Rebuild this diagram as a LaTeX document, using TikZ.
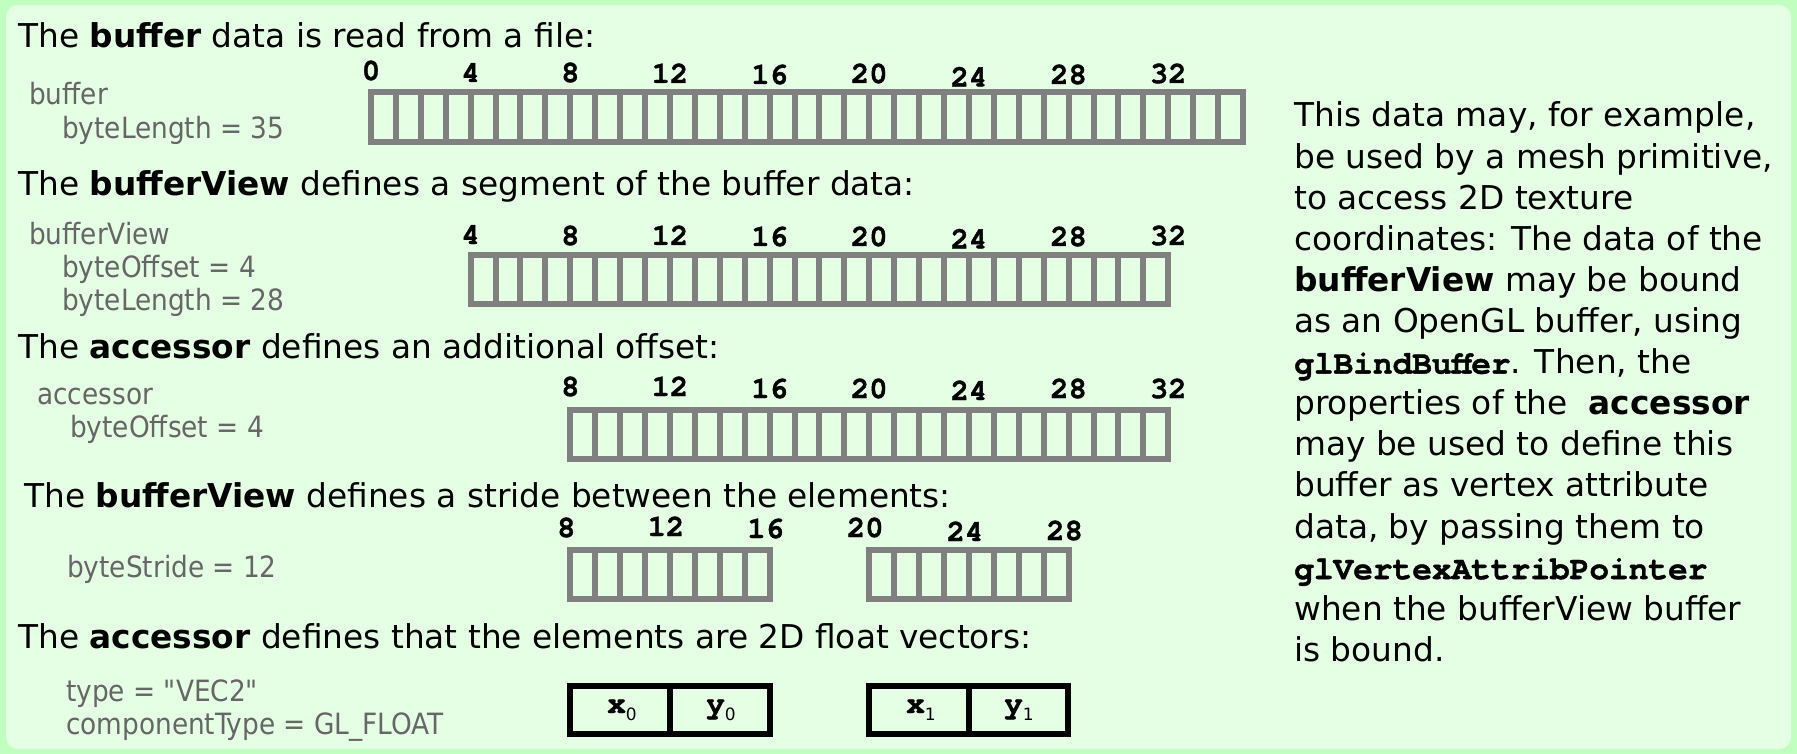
\documentclass[tikz,border=0pt]{standalone}
\usepackage{fontspec}
\setmainfont{DejaVu Sans}
\setmonofont{texgyrecursor}[Extension=.otf, UprightFont=*-regular, BoldFont=*-bold, BoldFeatures={FakeBold=1.2}]
\newfontfamily\condfont{DejaVu Sans Condensed}
\definecolor{outerbg}{RGB}{192,255,192}
\definecolor{innerbg}{RGB}{229,255,229}
\definecolor{labelgray}{RGB}{102,102,102}
\definecolor{cellgray}{RGB}{128,128,128}
\newcommand\cellrow[4]{%
  \draw[cellbox] ({371+#1*24.914},#3) rectangle ({371+#2*24.914},#4);
  \foreach \k in {#1,...,#2} \draw[cellbox] ({371+\k*24.914},#3) -- ({371+\k*24.914},#4);}
\begin{document}
\begin{tikzpicture}[x=1pt,y=-1pt,
  heading/.style={anchor=base west, inner sep=0pt, font=\fontsize{32.8}{40}\selectfont},
  prop/.style={anchor=base west, inner sep=0pt, text=labelgray, font=\condfont\fontsize{29.3}{34}\selectfont},
  idx/.style={anchor=base, inner sep=0pt, font=\ttfamily\bfseries\fontsize{30.5}{34}\selectfont},
  vlab/.style={anchor=base, inner sep=0pt, font=\fontsize{31}{34}\selectfont},
  side/.style={anchor=base west, inner sep=0pt, font=\fontsize{32.8}{40}\selectfont},
  cellbox/.style={draw=cellgray, line width=6pt},
  vecbox/.style={draw=black, line width=6pt}]
\useasboundingbox (0,0) rectangle (1797,754);
\fill[outerbg] (0,0) rectangle (1797,754);
\fill[innerbg, rounded corners=12pt] (6,5) rectangle (1791,749);

% headings
\node[heading] (h1) at (18,48) {The \textbf{buffer} data is read from a file:};
\node[heading] (h2) at (18,196) {The \textbf{bufferView} defines a segment of the buffer data:};
\node[heading] (h3) at (18,358) {The \textbf{accessor} defines an additional offset:};
\node[heading] (h4) at (24,507) {The \textbf{bufferView} defines a stride between the elements:};
\node[heading] (h5) at (18,648) {The \textbf{accessor} defines that the elements are 2D float vectors:};

% property labels
\node[prop] (p1a) at (29,105) {buffer};
\node[prop] (p1b) at (62,138.5) {byteLength = 35};
\node[prop] (p2a) at (29,244.5) {bufferView};
\node[prop] (p2b) at (62,277.5) {byteOffset = 4};
\node[prop] (p2c) at (62,310.5) {byteLength = 28};
\node[prop] (p3a) at (37,404.5) {accessor};
\node[prop] (p3b) at (70,437.5) {byteOffset = 4};
\node[prop] (p4a) at (67,577.5) {byteStride = 12};
\node[prop] (p5a) at (66,701.5) {type = "VEC2"};
\node[prop] (p5b) at (66,734.5) {componentType = GL\_FLOAT};

% cell rows
\cellrow{0}{35}{92}{142}
\cellrow{4}{32}{255}{304}
\cellrow{8}{32}{410}{459}
\cellrow{8}{16}{550}{599}
\cellrow{20}{28}{550}{599}

% index labels
\foreach \b/\yy in {0/80,4/82,8/82,12/83,16/84,20/83,24/86.4,28/84,32/83}
  \node[idx] (ra\b) at ({371+\b*24.914},\yy) {\b};
\foreach \b/\yy in {4/244,8/245,12/245,16/246,20/246,24/248.4,28/246,32/245}
  \node[idx] (rb\b) at ({371+\b*24.914},\yy) {\b};
\foreach \b/\yy in {8/396,12/396,16/398,20/398,24/400,28/398,32/398}
  \node[idx] (rc\b) at ({371+\b*24.914},\yy) {\b};
\foreach \b/\yy in {8/537,12/536,16/538,20/537,24/541,28/540}
  \node[idx] (rd\b) at ({367+\b*24.914},\yy) {\b};

% vector boxes
\draw[vecbox] (570,686) rectangle (770,734);
\draw[vecbox] (670,686) -- (670,734);
\draw[vecbox] (869,686) rectangle (1068,734);
\draw[vecbox] (968.5,686) -- (968.5,734);
\node[vlab] (x0) at (622,713) {{\ttfamily\bfseries x}\raisebox{-7pt}{\fontsize{17}{20}\selectfont 0}};
\node[vlab] (y0) at (721,713) {{\ttfamily\bfseries y}\raisebox{-7pt}{\fontsize{17}{20}\selectfont 0}};
\node[vlab] (x1) at (921,713) {{\ttfamily\bfseries x}\raisebox{-7pt}{\fontsize{17}{20}\selectfont 1}};
\node[vlab] (y1) at (1019,713) {{\ttfamily\bfseries y}\raisebox{-7pt}{\fontsize{17}{20}\selectfont 1}};

% side text
\foreach \i/\t in {
  0/{This data may, for example,},
  1/{be used by a mesh primitive,},
  2/{to access 2D texture},
  3/{coordinates: The data of the},
  4/{\textbf{bufferView} may be bound},
  5/{as an OpenGL buffer, using},
  6/{{\ttfamily\bfseries glBindBuffer}. Then, the},
  7/{properties of the\ \ \textbf{accessor}},
  8/{may be used to define this},
  9/{buffer as vertex attribute},
  10/{data, by passing them to},
  11/{{\ttfamily\bfseries glVertexAttribPointer}},
  12/{when the bufferView buffer},
  13/{is bound.}}
  \node[side] (s\i) at (1294,{127+\i*41.1}) {\t};
\end{tikzpicture}
\end{document}
